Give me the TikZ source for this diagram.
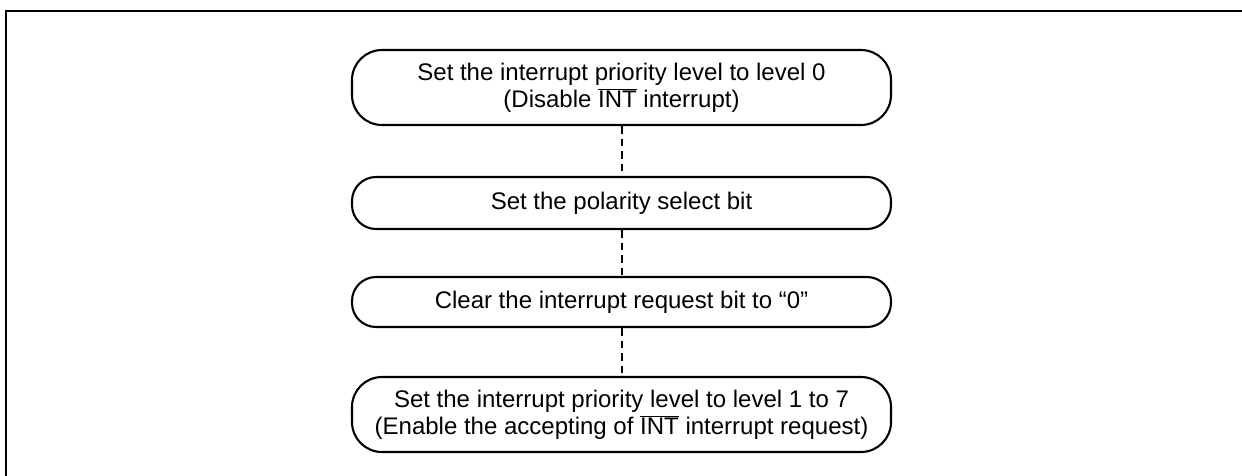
\documentclass[tikz,border=0pt]{standalone}
\usepackage{fontspec}
\setmainfont{Liberation Sans}
\begin{document}
\begin{tikzpicture}[x=1pt,y=-1pt,
  stepbox/.style={draw, line width=2.1pt, rounded corners=30pt, minimum width=539pt,
    inner sep=0pt, align=center, font=\fontsize{24}{27}\selectfont},
  shortbox/.style={stepbox, rounded corners=24pt},
  link/.style={line width=2pt, dash pattern=on 7.5pt off 5pt}]
\useasboundingbox (0,0) rectangle (1242,476);
\draw[line width=2.6pt] (6,476) -- (6,11) -- (1242,11);
\node[stepbox, minimum height=75pt] (b1) at (621.5,87.5)
  {Set the interrupt priority level to level 0\\(Disable $\overline{\mbox{INT}}$ interrupt)};
\node[shortbox, minimum height=52pt] (b2) at (621.5,203) {Set the polarity select bit};
\node[shortbox, minimum height=50pt] (b3) at (621.5,302) {Clear the interrupt request bit to “0”};
\node[stepbox, minimum height=75pt] (b4) at (621.5,414.5)
  {Set the interrupt priority level to level 1 to 7\\(Enable the accepting of $\overline{\mbox{INT}}$ interrupt request)};
\draw[link] (b1.south) -- (b2.north);
\draw[link] (b2.south) -- (b3.north);
\draw[link] (b3.south) -- (b4.north);
\end{tikzpicture}
\end{document}
